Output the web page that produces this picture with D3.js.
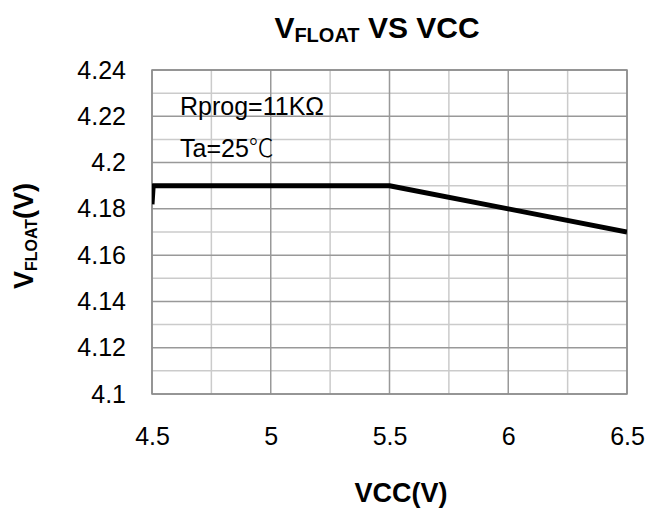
<!DOCTYPE html>
<html>
<head>
<meta charset="utf-8">
<script src="https://cdn.jsdelivr.net/npm/d3@7"></script>
<style>
  body { margin: 0; background: #fff; }
  text { font-family: "Liberation Sans", Arial, sans-serif; }
</style>
</head>
<body>
<svg id="chart"></svg>
<script>
var vcc = [4.5, 4.505, 5.5, 6, 6.5];
var vfloat = [4.182, 4.19, 4.19, 4.18, 4.17];
var xTicks = [4.5, 5, 5.5, 6, 6.5];
var yTicks = [4.1, 4.12, 4.14, 4.16, 4.18, 4.2, 4.22, 4.24];
var notes = ["Rprog=11K\u03a9", "Ta=25"];

var margin = { top: 70, right: 21, bottom: 116, left: 152 },
    width = 648 - margin.left - margin.right,
    height = 510 - margin.top - margin.bottom;

var svg = d3.select("#chart")
    .attr("width", 648)
    .attr("height", 510);

svg.append("clipPath").attr("id", "plotclip")
    .append("rect")
    .attr("width", width).attr("height", height);

var g = svg.append("g")
    .attr("transform", "translate(" + margin.left + "," + margin.top + ")");

var x = d3.scaleLinear().domain([4.5, 6.5]).range([0, width]);
var y = d3.scaleLinear().domain([4.1, 4.24]).range([height, 0]);

// minor grid
g.append("g").selectAll("line")
    .data(d3.range(4.75, 6.5, 0.5))
    .enter().append("line")
    .attr("x1", function(d) { return x(d); })
    .attr("x2", function(d) { return x(d); })
    .attr("y1", 0).attr("y2", height)
    .attr("stroke", "#cbcbcb").attr("stroke-width", 1.5);

g.append("g").selectAll("line")
    .data(d3.range(4.11, 4.24, 0.02))
    .enter().append("line")
    .attr("y1", function(d) { return y(d); })
    .attr("y2", function(d) { return y(d); })
    .attr("x1", 0).attr("x2", width)
    .attr("stroke", "#cbcbcb").attr("stroke-width", 1.5);

// major grid
g.append("g").selectAll("line")
    .data(xTicks)
    .enter().append("line")
    .attr("x1", function(d) { return x(d); })
    .attr("x2", function(d) { return x(d); })
    .attr("y1", 0).attr("y2", height)
    .attr("stroke", "#999").attr("stroke-width", 1.5);

g.append("g").selectAll("line")
    .data(yTicks)
    .enter().append("line")
    .attr("y1", function(d) { return y(d); })
    .attr("y2", function(d) { return y(d); })
    .attr("x1", 0).attr("x2", width)
    .attr("stroke", "#999").attr("stroke-width", 1.5);

g.append("rect")
    .attr("width", width).attr("height", height)
    .attr("fill", "none").attr("stroke", "#8c8c8c").attr("stroke-width", 1.5);

// axes labels
var xAxis = g.append("g")
    .attr("transform", "translate(0," + height + ")")
    .call(d3.axisBottom(x).tickValues(xTicks).tickSize(0).tickPadding(33)
        .tickFormat(d3.format("")));
xAxis.select(".domain").remove();
xAxis.selectAll("text").attr("font-size", 25).attr("fill", "#000")
    .style("font-family", "'Liberation Sans', Arial, sans-serif");

var yAxis = g.append("g")
    .call(d3.axisLeft(y).tickValues(yTicks).tickSize(0).tickPadding(26)
        .tickFormat(d3.format("")));
yAxis.select(".domain").remove();
yAxis.selectAll("text").attr("font-size", 25).attr("fill", "#000")
    .style("font-family", "'Liberation Sans', Arial, sans-serif");

// curve
var line = d3.line()
    .x(function(d, i) { return x(vcc[i]); })
    .y(function(d) { return y(d); });

g.append("path")
    .datum(vfloat)
    .attr("clip-path", "url(#plotclip)")
    .attr("d", line)
    .attr("fill", "none")
    .attr("stroke", "#000")
    .attr("stroke-width", 5)
    .attr("stroke-linejoin", "round");

// notes
var noteText = g.selectAll(".note")
    .data(notes)
    .enter().append("text")
    .attr("class", "note")
    .attr("x", 28)
    .attr("y", function(d, i) { return 45 + i * 42; })
    .attr("font-size", 25)
    .text(function(d) { return d; });
noteText.filter(function(d, i) { return i === 1; })
    .append("tspan")
    .style("font-family", "'Noto Sans CJK SC', sans-serif")
    .attr("font-weight", 300)
    .text("\u2103");

// title
var title = svg.append("text")
    .attr("x", 377).attr("y", 38)
    .attr("text-anchor", "middle")
    .attr("font-size", 30).attr("font-weight", "bold");
title.append("tspan").text("V");
title.append("tspan").attr("font-size", 20).attr("dy", 4).text("FLOAT");
title.append("tspan").attr("dy", -4).text(" VS VCC");

svg.append("text")
    .attr("x", 401).attr("y", 502)
    .attr("text-anchor", "middle")
    .attr("font-size", 27).attr("font-weight", "bold")
    .text("VCC(V)");

var yTitle = svg.append("text")
    .attr("transform", "translate(33,236) rotate(-90)")
    .attr("text-anchor", "middle")
    .attr("font-size", 27).attr("font-weight", "bold");
yTitle.append("tspan").text("V");
yTitle.append("tspan").attr("font-size", 16).attr("dy", 4).text("FLOAT");
yTitle.append("tspan").attr("dy", -4).text("(V)");
</script>
</body>
</html>
